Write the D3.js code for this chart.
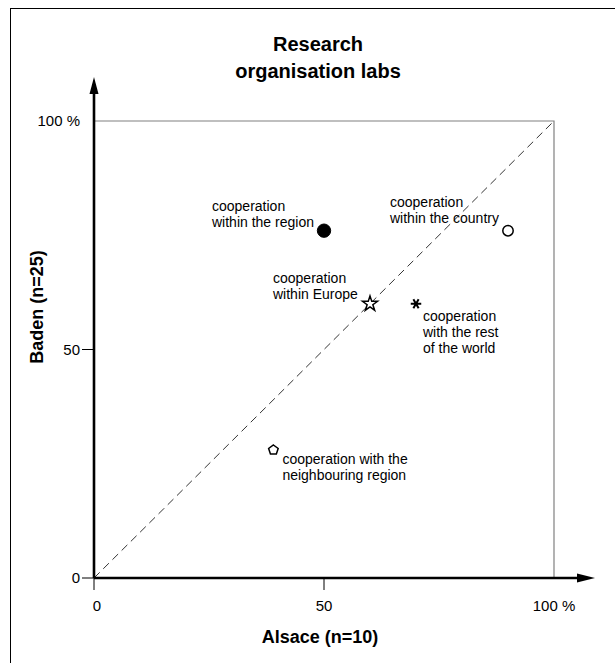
<!DOCTYPE html>
<html>
<head>
<meta charset="utf-8">
<script src="https://cdn.jsdelivr.net/npm/d3@7"></script>
<style>
  body { margin: 0; background: #fff; }
  text { font-family: "Liberation Sans", Arial, sans-serif; }
</style>
</head>
<body>
<div id="chart"></div>
<script>
// data
var categories = ["region", "country", "europe", "world", "neighbour"];
var alsace = [50, 90, 60, 70, 39];   // x, %
var baden  = [76, 76, 60, 60, 28];   // y, %
var labels = [
  ["cooperation", "within the region"],
  ["cooperation", "within the country"],
  ["cooperation", "within Europe"],
  ["cooperation", "with the rest", "of the world"],
  ["cooperation with the", "neighbouring region"]
];
var xTicks = [0, 50, 100];
var yTicks = [0, 50, 100];
var tickText = ["0", "50", "100 %"];

// label placement (offset from the marker, in px)
var labelOffset = [[-112, -20], [-118, -24], [-97, -21], [7, 17], [9, 14]];

var width = 615, height = 663;
var margin = {top: 121, right: 61, bottom: 85, left: 94};

var svg = d3.select("#chart")
  .append("svg")
    .attr("width", width)
    .attr("height", height);

// outer frame
svg.append("rect")
  .attr("x", 10.5).attr("y", 8.5)
  .attr("width", 700).attr("height", 700)
  .attr("fill", "none")
  .attr("stroke", "#000")
  .attr("stroke-width", 1);

var x = d3.scaleLinear().domain([0, 100]).range([margin.left, width - margin.right]);
var y = d3.scaleLinear().domain([0, 100]).range([height - margin.bottom, margin.top]);

// title
svg.append("text")
  .attr("x", 318).attr("y", 51)
  .attr("text-anchor", "middle")
  .attr("font-weight", "bold")
  .attr("font-size", 20)
  .selectAll("tspan")
  .data(["Research", "organisation labs"])
  .enter().append("tspan")
    .attr("x", 318)
    .attr("dy", (d, i) => i ? 27 : 0)
    .text(d => d);

// grey frame at 100 %
svg.append("path")
  .attr("d", "M" + x(0) + "," + y(100) + "H" + x(100) + "V" + y(0))
  .attr("fill", "none")
  .attr("stroke", "#808080")
  .attr("stroke-width", 1.2);

// diagonal
svg.append("line")
  .attr("x1", x(0)).attr("y1", y(0))
  .attr("x2", x(100)).attr("y2", y(100))
  .attr("stroke", "#000")
  .attr("stroke-width", 0.8)
  .attr("stroke-dasharray", "8,5");

// ticks
svg.selectAll(".xtick")
  .data(xTicks.slice(0, 2))
  .enter().append("line")
    .attr("x1", d => x(d)).attr("x2", d => x(d))
    .attr("y1", y(0)).attr("y2", y(0) + 12)
    .attr("stroke", "#000").attr("stroke-width", 1);

svg.selectAll(".ytick")
  .data(yTicks.slice(0, 2))
  .enter().append("line")
    .attr("x1", x(0) - 12).attr("x2", x(0))
    .attr("y1", d => y(d)).attr("y2", d => y(d))
    .attr("stroke", "#000").attr("stroke-width", 1);

svg.selectAll(".xlab")
  .data(xTicks)
  .enter().append("text")
    .attr("x", (d, i) => x(d) + (i === 0 ? 3 : 0))
    .attr("y", y(0) + 33)
    .attr("text-anchor", "middle")
    .attr("font-size", 15)
    .text((d, i) => tickText[i]);

svg.selectAll(".ylab")
  .data(yTicks)
  .enter().append("text")
    .attr("x", x(0) - 14)
    .attr("y", d => y(d) + 5)
    .attr("text-anchor", "end")
    .attr("font-size", 15)
    .text((d, i) => tickText[i]);

// axes with arrows
svg.append("line")
  .attr("x1", x(0)).attr("y1", y(0))
  .attr("x2", x(0)).attr("y2", 90)
  .attr("stroke", "#000").attr("stroke-width", 2.6);
svg.append("path")
  .attr("d", "M" + x(0) + ",77L" + (x(0) - 4.5) + ",94L" + (x(0) + 4.5) + ",94Z")
  .attr("fill", "#000");

svg.append("line")
  .attr("x1", x(0)).attr("y1", y(0))
  .attr("x2", 580).attr("y2", y(0))
  .attr("stroke", "#000").attr("stroke-width", 2.6);
svg.append("path")
  .attr("d", "M595," + y(0) + "L577," + (y(0) - 4.5) + "L577," + (y(0) + 4.5) + "Z")
  .attr("fill", "#000");

// axis titles
svg.append("text")
  .attr("x", 320).attr("y", 643)
  .attr("text-anchor", "middle")
  .attr("font-weight", "bold")
  .attr("font-size", 18)
  .text("Alsace (n=10)");

svg.append("text")
  .attr("transform", "translate(43,307) rotate(-90)")
  .attr("text-anchor", "middle")
  .attr("font-weight", "bold")
  .attr("font-size", 18)
  .text("Baden (n=25)");

// marker shapes
var pentagon = {
  draw: function(ctx, size) {
    var r = Math.sqrt(size / 2.378);
    for (var i = 0; i < 5; i++) {
      var a = -Math.PI / 2 + i * 2 * Math.PI / 5;
      if (i === 0) ctx.moveTo(r * Math.cos(a), r * Math.sin(a));
      else ctx.lineTo(r * Math.cos(a), r * Math.sin(a));
    }
    ctx.closePath();
  }
};
var asterisk = {
  draw: function(ctx, size) {
    var r = Math.sqrt(size) / 2;
    for (var i = 0; i < 3; i++) {
      var a = i * Math.PI / 3;
      ctx.moveTo(-r * Math.cos(a), -r * Math.sin(a));
      ctx.lineTo(r * Math.cos(a), r * Math.sin(a));
    }
  }
};

var markers = {
  region:    {type: d3.symbolCircle, size: 140, fill: "#000", sw: 1},
  country:   {type: d3.symbolCircle, size: 85, fill: "#fff", sw: 1.5},
  europe:    {type: d3.symbolStar, size: 70, fill: "#fff", sw: 1.5},
  world:     {type: asterisk, size: 110, fill: "none", sw: 2},
  neighbour: {type: pentagon, size: 60, fill: "#fff", sw: 1.5}
};

var pts = categories.map((c, i) => ({cat: c, x: alsace[i], y: baden[i], lines: labels[i], off: labelOffset[i]}));

svg.selectAll(".pt")
  .data(pts)
  .enter().append("path")
    .attr("transform", d => "translate(" + x(d.x) + "," + y(d.y) + ")")
    .attr("d", d => d3.symbol().type(markers[d.cat].type).size(markers[d.cat].size)())
    .attr("fill", d => markers[d.cat].fill)
    .attr("stroke", "#000")
    .attr("stroke-width", d => markers[d.cat].sw);

var lab = svg.selectAll(".ptlab")
  .data(pts)
  .enter().append("text")
    .attr("font-size", 14)
    .attr("x", d => x(d.x) + d.off[0])
    .attr("y", d => y(d.y) + d.off[1]);

lab.selectAll("tspan")
  .data(d => d.lines.map(l => ({l: l, x: x(d.x) + d.off[0]})))
  .enter().append("tspan")
    .attr("x", d => d.x)
    .attr("dy", (d, i) => i ? 16 : 0)
    .text(d => d.l);
</script>
</body>
</html>
